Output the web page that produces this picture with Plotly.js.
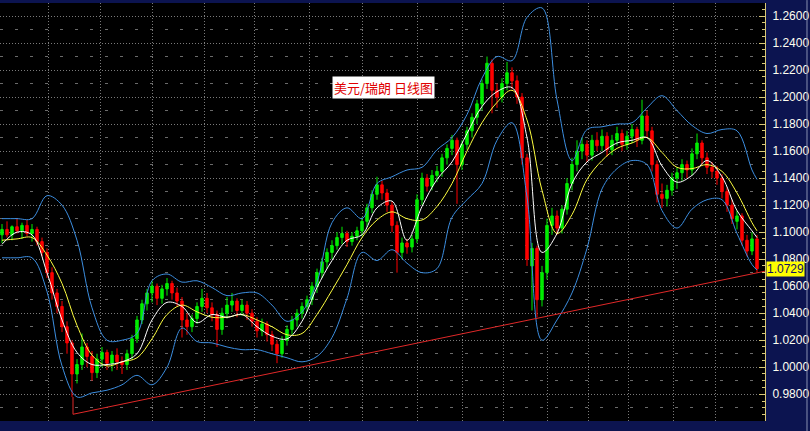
<!DOCTYPE html>
<html>
<head>
<meta charset="utf-8">
<script src="https://cdn.plot.ly/plotly-3.0.1.min.js"></script>
<style>html,body{margin:0;padding:0;background:#0c1450;}#chart{width:810px;height:431px;}</style>
</head>
<body>
<div id="chart"></div>
<script>
// Daily USD/CHF candles (index = trading day)
const open = [
1.098,1.102,1.098,1.104,1.101,1.105,1.099,1.102,1.093,1.085,
1.070,1.055,1.045,1.030,1.018,0.995,1.002,1.015,1.008,0.996,
1.006,1.011,1.003,1.009,1.004,1.002,1.010,1.021,1.035,1.047,
1.055,1.060,1.051,1.058,1.062,1.055,1.049,1.035,1.030,1.036,
1.045,1.051,1.044,1.039,1.028,1.040,1.046,1.049,1.042,1.046,
1.040,1.034,1.027,1.032,1.024,1.017,1.010,1.020,1.028,1.035,
1.040,1.045,1.050,1.060,1.070,1.078,1.085,1.090,1.096,1.099,
1.093,1.097,1.101,1.108,1.118,1.128,1.135,1.129,1.120,1.105,
1.085,1.092,1.089,1.095,1.124,1.140,1.134,1.142,1.145,1.155,
1.162,1.168,1.150,1.165,1.175,1.185,1.195,1.210,1.225,1.205,
1.200,1.210,1.218,1.212,1.200,1.155,1.075,1.088,1.050,1.070,
1.105,1.112,1.103,1.117,1.136,1.150,1.160,1.165,1.157,1.168,
1.164,1.171,1.161,1.168,1.173,1.165,1.171,1.176,1.168,1.186,
1.175,1.150,1.128,1.125,1.131,1.140,1.144,1.150,1.146,1.158,
1.166,1.155,1.148,1.145,1.140,1.130,1.120,1.108,1.112,1.094,
1.086,1.095];
const high = [
1.106,1.108,1.105,1.110,1.107,1.109,1.106,1.104,1.096,1.088,
1.074,1.058,1.049,1.034,1.020,1.006,1.025,1.018,1.012,1.010,
1.015,1.013,1.012,1.014,1.008,1.013,1.024,1.038,1.050,1.058,
1.064,1.062,1.061,1.066,1.064,1.059,1.052,1.040,1.039,1.048,
1.058,1.055,1.048,1.042,1.044,1.052,1.055,1.051,1.050,1.049,
1.043,1.037,1.036,1.034,1.027,1.020,1.023,1.031,1.038,1.043,
1.048,1.053,1.063,1.073,1.081,1.088,1.094,1.100,1.104,1.101,
1.100,1.104,1.111,1.121,1.131,1.141,1.138,1.132,1.123,1.108,
1.096,1.095,1.098,1.128,1.144,1.143,1.146,1.149,1.158,1.165,
1.172,1.170,1.168,1.178,1.188,1.198,1.213,1.230,1.228,1.210,
1.214,1.226,1.222,1.216,1.203,1.158,1.092,1.090,1.075,1.110,
1.118,1.116,1.120,1.140,1.155,1.168,1.170,1.168,1.172,1.174,
1.176,1.174,1.172,1.178,1.176,1.175,1.180,1.178,1.198,1.190,
1.178,1.153,1.136,1.135,1.144,1.148,1.154,1.153,1.162,1.173,
1.168,1.159,1.152,1.149,1.143,1.133,1.124,1.116,1.114,1.098,
1.100,1.098];
const low = [
1.092,1.096,1.094,1.099,1.095,1.097,1.093,1.090,1.082,1.066,
1.050,1.040,1.026,1.010,0.978,0.988,0.998,1.000,0.990,0.992,
1.000,0.998,0.997,0.998,0.995,0.998,1.006,1.018,1.032,1.042,
1.048,1.046,1.047,1.053,1.050,1.045,1.022,1.024,1.026,1.032,
1.041,1.040,1.034,1.015,1.024,1.036,1.041,1.037,1.038,1.035,
1.030,1.022,1.023,1.019,1.012,1.003,1.007,1.016,1.024,1.030,
1.036,1.041,1.046,1.055,1.066,1.073,1.080,1.087,1.091,1.089,
1.090,1.094,1.097,1.104,1.114,1.124,1.124,1.115,1.100,1.070,
1.080,1.084,1.085,1.092,1.120,1.130,1.131,1.137,1.141,1.150,
1.157,1.121,1.146,1.161,1.170,1.180,1.190,1.206,1.188,1.192,
1.196,1.205,1.206,1.195,1.150,1.075,1.042,1.037,1.045,1.065,
1.098,1.098,1.099,1.113,1.131,1.145,1.154,1.152,1.153,1.160,
1.160,1.156,1.157,1.164,1.160,1.161,1.166,1.163,1.165,1.170,
1.145,1.122,1.118,1.119,1.127,1.132,1.138,1.140,1.142,1.154,
1.150,1.143,1.140,1.135,1.125,1.115,1.106,1.102,1.090,1.082,
1.083,1.070];
const close = [
1.102,1.098,1.104,1.101,1.105,1.099,1.102,1.093,1.085,1.070,
1.055,1.045,1.030,1.018,0.995,1.002,1.015,1.008,0.996,1.006,
1.011,1.003,1.009,1.004,1.002,1.010,1.021,1.035,1.047,1.055,
1.060,1.051,1.058,1.062,1.055,1.049,1.035,1.030,1.036,1.045,
1.051,1.044,1.039,1.028,1.040,1.046,1.049,1.042,1.046,1.040,
1.034,1.027,1.032,1.024,1.017,1.010,1.020,1.028,1.035,1.040,
1.045,1.050,1.060,1.070,1.078,1.085,1.090,1.096,1.099,1.093,
1.097,1.101,1.108,1.118,1.128,1.135,1.129,1.120,1.105,1.085,
1.092,1.089,1.095,1.124,1.140,1.134,1.142,1.145,1.155,1.162,
1.168,1.150,1.165,1.175,1.185,1.195,1.210,1.225,1.205,1.200,
1.210,1.218,1.212,1.200,1.155,1.080,1.088,1.050,1.070,1.105,
1.112,1.103,1.117,1.136,1.150,1.160,1.165,1.157,1.168,1.164,
1.171,1.161,1.168,1.173,1.165,1.171,1.176,1.168,1.186,1.175,
1.150,1.128,1.125,1.131,1.140,1.144,1.150,1.146,1.158,1.166,
1.155,1.148,1.145,1.140,1.130,1.120,1.110,1.112,1.094,1.086,
1.095,1.0729];

// Indicator lines read at every third day
const bandX = [0,3,6,9,12,15,18,21,24,27,30,33,36,39,42,45,48,51,54,57,60,63,66,69,72,75,78,81,84,87,90,93,96,99,102,105,108,111,114,117,120,123,126,129,132,135,138,141,144,147,150,151];
const upperBand = [1.110,1.110,1.110,1.127,1.120,1.094,1.044,1.020,1.020,1.025,1.064,1.069,1.063,1.064,1.059,1.053,1.055,1.055,1.046,1.034,1.041,1.063,1.107,1.118,1.110,1.136,1.141,1.146,1.148,1.161,1.170,1.187,1.214,1.230,1.227,1.259,1.266,1.198,1.153,1.176,1.178,1.180,1.181,1.192,1.201,1.190,1.179,1.173,1.176,1.175,1.146,1.139];
const lowerBand = [1.081,1.081,1.081,1.056,1.001,0.978,0.981,0.983,0.987,0.994,0.987,1.000,1.029,1.019,1.018,1.015,1.013,1.013,1.010,1.007,1.004,1.008,1.022,1.051,1.085,1.079,1.087,1.077,1.070,1.073,1.111,1.124,1.136,1.168,1.181,1.126,1.020,1.035,1.055,1.088,1.132,1.147,1.153,1.150,1.116,1.103,1.117,1.124,1.124,1.099,1.076,1.072];
const fastMA = [1.091,1.100,1.098,1.070,1.035,1.011,1.002,1.002,1.004,1.010,1.035,1.048,1.045,1.033,1.039,1.037,1.039,1.030,1.023,1.021,1.034,1.059,1.079,1.094,1.098,1.118,1.123,1.094,1.119,1.139,1.152,1.173,1.193,1.204,1.207,1.170,1.085,1.099,1.136,1.152,1.159,1.166,1.168,1.170,1.149,1.137,1.142,1.153,1.141,1.116,1.101,1.096];
const slowMA = [1.094,1.095,1.096,1.083,1.062,1.031,1.009,1.001,1.004,1.007,1.021,1.039,1.046,1.041,1.037,1.037,1.039,1.035,1.030,1.024,1.025,1.039,1.057,1.076,1.096,1.109,1.115,1.110,1.109,1.119,1.136,1.160,1.181,1.196,1.205,1.183,1.131,1.099,1.113,1.139,1.153,1.162,1.166,1.170,1.159,1.148,1.147,1.150,1.145,1.129,1.107,1.101];

// Hand-drawn support line (day, price)
const trendX = [14.2, 14.2, 152.6];
const trendY = [0.978, 0.9652, 1.0711];

// Month separators (day index) and labels
const monthGrid = [9.2,19.6,30,40.4,50.4,61.4,72,83,92,100.2,109,117.2,125.2,134.2,142.6];
const titleText = '美元/瑞朗 日线图';
const lastPriceText = '1.0729';
const lastPrice = 1.0729;

const days = open.map((_, i) => i);

const traces = [
  {type:'scatter', mode:'lines', x:bandX, y:upperBand, line:{color:'#3c8ee0', width:1, shape:'spline', smoothing:1}, hoverinfo:'skip'},
  {type:'scatter', mode:'lines', x:bandX, y:lowerBand, line:{color:'#3c8ee0', width:1, shape:'spline', smoothing:1}, hoverinfo:'skip'},
  {type:'candlestick', x:days, open:open, high:high, low:low, close:close,
   increasing:{line:{color:'#00ee00', width:1}, fillcolor:'#00ee00'},
   decreasing:{line:{color:'#ff0000', width:1}, fillcolor:'#ff0000'},
   whiskerwidth:0, hoverinfo:'skip'},
  {type:'scatter', mode:'lines', x:bandX, y:slowMA, line:{color:'#ffff40', width:1, shape:'spline', smoothing:1}, hoverinfo:'skip'},
  {type:'scatter', mode:'lines', x:bandX, y:fastMA, line:{color:'#ffffff', width:1, shape:'spline', smoothing:1}, hoverinfo:'skip'},
  {type:'scatter', mode:'lines', x:trendX, y:trendY, line:{color:'#e02828', width:1}, hoverinfo:'skip', cliponaxis:false},
  {type:'scatter', mode:'lines', x:[null], y:[null], yaxis:'y2', hoverinfo:'skip'}
];

const yRange = [0.9602, 1.26963];
const layout = {
  width:810, height:431,
  margin:{l:0, r:45, t:3, b:10, pad:0},
  paper_bgcolor:'#0c1450', plot_bgcolor:'#000000',
  showlegend:false, hovermode:false,
  xaxis:{range:[-0.4,152.6], tickvals:monthGrid, showticklabels:false, ticks:'',
         showgrid:true, gridcolor:'#7a7a7a', griddash:'1px,2px', gridwidth:1,
         zeroline:false, showline:false, rangeslider:{visible:false}, fixedrange:true},
  yaxis:{side:'right', range:yRange, tick0:0.98, dtick:0.02, tickformat:'.4f',
         showgrid:true, gridcolor:'#7a7a7a', griddash:'1px,2px', gridwidth:1,
         ticks:'inside', ticklen:6, tickcolor:'#d8c878', tickwidth:1, ticklabelstandoff:4,
         showline:true, linecolor:'#d8c878', linewidth:1, zeroline:false,
         tickfont:{family:'Liberation Sans, Arial, sans-serif', size:12, color:'#fffff0'},
         minor:{dtick:0.005, tick0:0.98, ticks:'inside', ticklen:3, tickcolor:'#d8c878', showgrid:false},
         fixedrange:true},
  yaxis2:{overlaying:'y', side:'right', range:yRange, tick0:1.01, dtick:0.02,
          showgrid:true, gridcolor:'#6a6a6a', griddash:'3px,12px', gridwidth:1,
          showticklabels:false, ticks:'', showline:false, zeroline:false, fixedrange:true},
  annotations:[
    {text:titleText, xref:'paper', yref:'paper', x:0.5007, y:0.799, xanchor:'center', yanchor:'middle',
     showarrow:false, bgcolor:'#ffffff', borderpad:1,
     font:{family:'Noto Sans CJK SC, sans-serif', size:13, color:'#e00000'}},
    {text:lastPriceText, xref:'paper', yref:'y', x:1, y:lastPrice, xanchor:'left', yanchor:'middle', xshift:1,
     showarrow:false, bgcolor:'#ffff00', borderpad:0,
     font:{family:'Liberation Sans, Arial, sans-serif', size:12, color:'#10106a'}}
  ],
  shapes:[
    {type:'line', xref:'paper', yref:'paper', x0:1.0549, x1:1.0549, y0:-0.024, y1:1.007, line:{color:'#8890b0', width:1}}
  ]
};

Plotly.newPlot('chart', traces, layout, {displayModeBar:false, staticPlot:true});
</script>
</body>
</html>
